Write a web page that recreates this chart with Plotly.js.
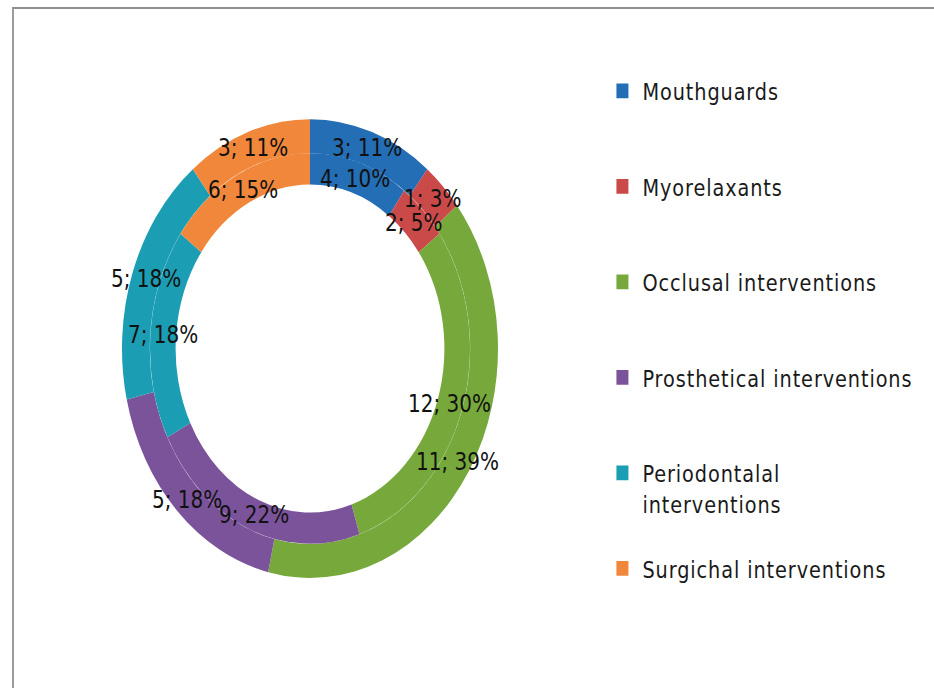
<!DOCTYPE html>
<html>
<head>
<meta charset="utf-8">
<script src="https://cdn.plot.ly/plotly-3.0.1.min.js"></script>
<style>
  html, body { margin: 0; padding: 0; background: #ffffff; }
  #wrap { position: relative; width: 934px; height: 688px; overflow: hidden; background: #ffffff; }
  #frame { position: absolute; left: 12px; top: 7px; right: 0; bottom: 0;
           border-top: 2px solid #8f8f8f; border-left: 2px solid #9c9c9c; }
  #chart { position: absolute; left: 0; top: 0; width: 934px; height: 564px;
           transform: scaleY(1.22); transform-origin: 0 0; }
</style>
</head>
<body>
<div id="wrap">
  <div id="frame"></div>
  <div id="chart"></div>
</div>
<script>
// Categories (legend order, clockwise from 12 o'clock)
const categories = ['Mouthguards', 'Myorelaxants', 'Occlusal interventions',
                    'Prosthetical interventions', 'Periodontalal interventions', 'Surgichal interventions'];
const legendLabels = ['Mouthguards', 'Myorelaxants', 'Occlusal interventions',
                      'Prosthetical interventions', 'Periodontalal<br>interventions', 'Surgichal interventions'];
// Outer ring
const outerValues = [3, 1, 11, 5, 5, 3];
const outerPct    = [11, 3, 39, 18, 18, 11];
// Inner ring
const innerValues = [4, 2, 12, 9, 7, 6];
const innerPct    = [10, 5, 30, 22, 18, 15];

const colors = ['#236eb4', '#c94a48', '#77a83c', '#7b539a', '#1b9db3', '#f0873a'];

const W = 934, H = 564;

// pad every legend entry to three lines so entries are evenly spaced
const legendNames = legendLabels.map(function (l) {
  const lines = l.split('<br>');
  while (lines.length < 3) lines.push(' ');
  return lines.map(function (s) { return '<span style="letter-spacing:0.9px">' + s + '</span>'; }).join('<br>');
});

const outerDomain = { x: [0.13062, 0.53319], y: [0.16011, 0.82677] };
const innerDomain = { x: [0.16060, 0.50321], y: [0.20975, 0.77713] };
const outerHole = 0.852, innerHole = 0.84;

function ring(values, pct, domain, hole) {
  return {
    type: 'pie',
    labels: legendNames,
    values: values,
    customdata: pct,
    sort: false,
    direction: 'clockwise',
    rotation: 0,
    hole: hole,
    domain: domain,
    marker: { colors: colors, line: { width: 0 } },
    textposition: 'none',
    hoverinfo: 'none'
  };
}

// data labels: centred on each slice, halfway across its ring
function ringLabels(values, pct, domain, hole) {
  const rPx = Math.min((domain.x[1] - domain.x[0]) * W, (domain.y[1] - domain.y[0]) * H) / 2;
  const rMid = rPx * (1 + hole) / 2;
  const cx = (domain.x[0] + domain.x[1]) / 2;
  const cy = (domain.y[0] + domain.y[1]) / 2;
  const total = values.reduce(function (a, b) { return a + b; }, 0);
  let cum = 0;
  return values.map(function (v, i) {
    const mid = (cum + v / 2) / total * 2 * Math.PI;
    cum += v;
    return {
      xref: 'paper', yref: 'paper',
      x: cx + rMid * Math.sin(mid) / W,
      y: cy + rMid * Math.cos(mid) / H,
      xanchor: 'center', yanchor: 'middle',
      showarrow: false,
      text: v + '; ' + pct[i] + '%',
      font: { family: 'DejaVu Sans', size: 20, color: '#111111' }
    };
  });
}

const layout = {
  width: W,
  height: H,
  margin: { l: 0, r: 0, t: 0, b: 0 },
  paper_bgcolor: 'rgba(0,0,0,0)',
  plot_bgcolor: 'rgba(0,0,0,0)',
  showlegend: true,
  legend: {
    x: 0.645, xanchor: 'left',
    y: 0.9016, yanchor: 'top',
    valign: 'top',
    font: { family: 'DejaVu Sans', size: 19.3, color: '#1a1a1a' },
    bgcolor: 'rgba(0,0,0,0)',
    traceorder: 'normal'
  },
  annotations: ringLabels(outerValues, outerPct, outerDomain, outerHole)
    .concat(ringLabels(innerValues, innerPct, innerDomain, innerHole))
};

Plotly.newPlot('chart', [
  ring(outerValues, outerPct, outerDomain, outerHole),
  ring(innerValues, innerPct, innerDomain, innerHole)
], layout, { displayModeBar: false, staticPlot: true });
</script>
</body>
</html>
